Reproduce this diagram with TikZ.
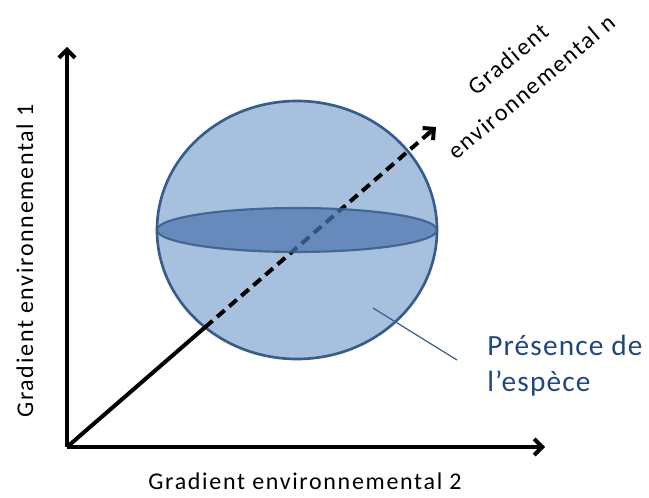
\documentclass[tikz,border=0pt]{standalone}
\usepackage{fontspec}
\setmainfont{Carlito}
\newfontfamily\axisfont[LetterSpace=7]{Carlito}
\newfontfamily\presfont[LetterSpace=4]{Carlito}
\usetikzlibrary{arrows.meta,calc}
\definecolor{sphfill}{RGB}{167,192,222}
\definecolor{sphline}{RGB}{56,93,138}
\definecolor{eqfill}{RGB}{76,118,174}
\definecolor{lbltext}{RGB}{31,73,125}

\begin{document}
\begin{tikzpicture}[x=0.75pt,y=-0.75pt]
\tikzstyle{every node}+=[inner sep=0pt]
\tikzstyle{axis}=[black, line width=3pt, -{Straight Barb[length=6pt,width=12pt]}]
\tikzstyle{axislabel}=[font=\axisfont\fontsize{18}{27}\selectfont]
\useasboundingbox (0,0) rectangle (649,498);
\coordinate (o) at (67,447);
\coordinate (g1) at (67,47);
\coordinate (g2) at (545,447);
\coordinate (gn) at (436,127);
\coordinate (c) at (297,230);
\coordinate (p) at ($(o)!0.374!(gn)$);
\fill [sphfill] (c) ellipse (140 and 129);
\draw [sphline, line width=2pt] (c) ellipse (140 and 129);
\draw [axis] (o) -- (g1);
\draw [axis] (o) -- (g2);
\draw [black, line width=3pt] (o) -- (p);
\draw [black, line width=3pt, dash pattern=on 7.5pt off 4.5pt] (p) -- ($(p)!0.97!(gn)$);
\draw [axis] ($(p)!0.96!(gn)$) -- (gn);
\filldraw [fill=eqfill, fill opacity=0.72, draw=sphline, draw opacity=0.85, line width=1.6pt] (c) ellipse (140 and 22);
\coordinate (ptr) at (373,308);
\coordinate (pe) at (457,360);
\draw [sphline, line width=0.9pt] (ptr) -- (pe);
\node (l1) [axislabel, rotate=90, anchor=base] at (33,261) {Gradient environnemental 1};
\node (l2) [axislabel, anchor=base] at (305,489) {Gradient environnemental 2};
\node (ln) [axislabel, rotate=40, align=center] at (520,73) {Gradient\\environnemental n};
\node (pr) [anchor=west, align=left, text=lbltext, font=\presfont\fontsize{22}{27}\selectfont] at (487,366) {Présence de\\l’espèce};
\end{tikzpicture}
\end{document}
